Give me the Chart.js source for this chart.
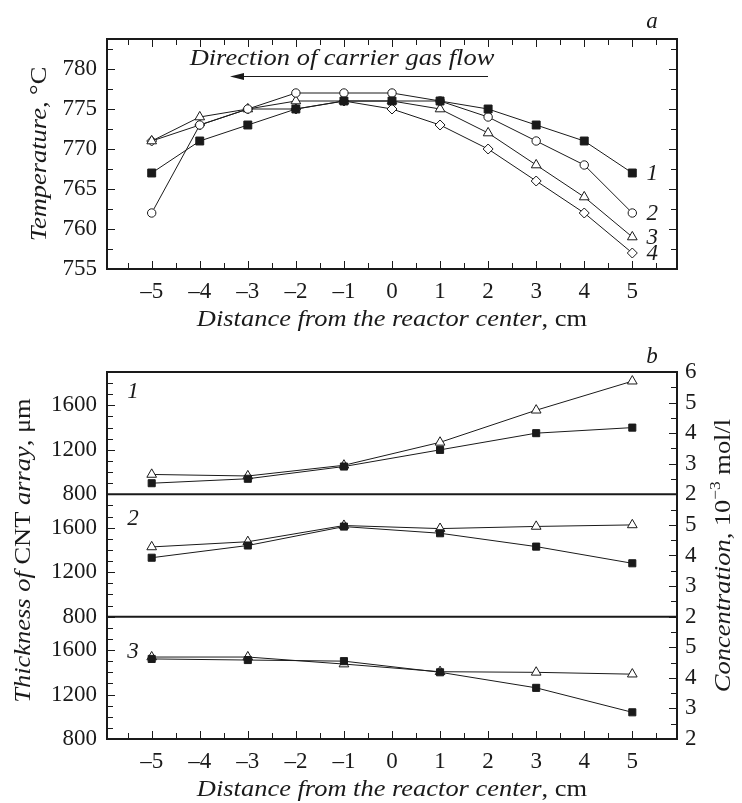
<!DOCTYPE html>
<html>
<head>
<meta charset="utf-8">
<script src="https://cdn.jsdelivr.net/npm/chart.js@4.4.0/dist/chart.umd.min.js"></script>
<style>
  body { margin: 0; background: #fff; }
  canvas { display: block; }
</style>
</head>
<body>
<canvas id="tempChart" width="742" height="335"></canvas>
<canvas id="cntChart" width="742" height="468"></canvas>
<script>
// panel a: temperature profiles along the reactor
const tempX = [-5, -4, -3, -2, -1, 0, 1, 2, 3, 4, 5];
const temp1 = [767, 771, 773, 775, 776, 776, 776, 775, 773, 771, 767];
const temp2 = [762, 773, 775, 777, 777, 777, 776, 774, 771, 768, 762];
const temp3 = [771, 774, 775, 776, 776, 776, 775, 772, 768, 764, 759];
const temp4 = [771, 773, 775, 775, 776, 775, 773, 770, 766, 762, 757];
const tempNames = ['1', '2', '3', '4'];
const tempTicks = [755, 760, 765, 770, 775, 780];

// panel b: CNT array thickness (squares, um) and concentration (triangles, 1e-3 mol/l)
const cntX = [-5, -3, -1, 1, 3, 5];
const thick1 = [900, 940, 1050, 1200, 1350, 1400];
const thick2 = [1330, 1440, 1610, 1550, 1430, 1280];
const thick3 = [1520, 1510, 1500, 1400, 1260, 1040];
const conc1 = [2.65, 2.6, 2.95, 3.7, 4.75, 5.7];
const conc2 = [4.28, 4.45, 4.98, 4.88, 4.95, 5.0];
const conc3 = [4.68, 4.68, 4.45, 4.2, 4.18, 4.12];
const cntNames = ['1', '2', '3'];
const thickTicks = [800, 1200, 1600];
const concTicksTop = [2, 3, 4, 5, 6];
const concTicks = [2, 3, 4, 5];

const distTicks = [-5, -4, -3, -2, -1, 0, 1, 2, 3, 4, 5];

const SERIF = '"Liberation Serif", "DejaVu Serif", serif';
const INK = '#1a1a1a';
const tickFont = { family: SERIF, size: 23 };
const IT = 'italic 23px ' + SERIF;
const RM = '23px ' + SERIF;
const STRETCH = 1.15;  // the original lettering is a bit wide

const fmtX = v => (v < 0 ? '\u2013' + Math.abs(v) : String(v));
const plain = v => String(v);
const pts = (xs, ys) => ys.map((v, i) => ({ x: xs[i], y: v }));
const fixTicks = list => sc => { sc.ticks = list.map(v => ({ value: v })); };

function series(xs, ys, style, fill, r, axis) {
  const ds = {
    data: pts(xs, ys),
    borderColor: INK, borderWidth: 1,
    pointStyle: style, pointRadius: r, pointBorderWidth: 1,
    pointBorderColor: INK, pointBackgroundColor: fill,
    tension: 0, fill: false
  };
  if (axis) ds.yAxisID = axis;
  return ds;
}

// mixed italic / upright text, centred at x,y
function richText(ctx, parts, x, y, angle) {
  ctx.save();
  ctx.translate(x, y);
  ctx.rotate(angle || 0);
  ctx.scale(STRETCH, 1);
  ctx.textBaseline = 'middle';
  ctx.textAlign = 'left';
  ctx.fillStyle = INK;
  let total = 0;
  parts.forEach(p => { ctx.font = p[1]; total += ctx.measureText(p[0]).width; });
  let cx = -total / 2;
  parts.forEach(p => {
    ctx.font = p[1];
    ctx.fillText(p[0], cx, p[2] || 0);
    cx += ctx.measureText(p[0]).width;
  });
  ctx.restore();
}

// inward tick marks along one side of the plot
function inTicks(ctx, scale, step, major, from, dir, horizontal) {
  const n = Math.round((scale.max - scale.min) / step);
  const start = Math.ceil(scale.min / step - 1e-9) * step;
  ctx.beginPath();
  for (let i = 0; i <= n + 1; i++) {
    const v = start + i * step;
    if (v > scale.max + 1e-9) break;
    const isMajor = Math.abs(v / major - Math.round(v / major)) < 1e-6;
    const len = isMajor ? 8 : 6;
    const p = Math.round(scale.getPixelForValue(v)) + 0.5;
    if (horizontal) { ctx.moveTo(p, from); ctx.lineTo(p, from + dir * len); }
    else { ctx.moveTo(from, p); ctx.lineTo(from + dir * len, p); }
  }
  ctx.stroke();
}

function frame(ctx, a) {
  ctx.lineWidth = 2;
  ctx.strokeStyle = INK;
  ctx.strokeRect(a.left, a.top, a.right - a.left, a.bottom - a.top);
}

const axisBase = {
  grid: { display: false, drawTicks: false },
  border: { display: false }
};
const yTicks = { autoSkip: false, callback: plain, font: tickFont, color: INK };

const distAxis = (h) => ({
  ...axisBase, type: 'linear', min: -5.93, max: 5.93,
  afterBuildTicks: fixTicks(distTicks),
  ticks: { autoSkip: false, maxRotation: 0, callback: fmtX, font: tickFont, color: INK, padding: 9 },
  afterFit: sc => { sc.height = h; }
});

const tempDecor = {
  id: 'tempDecor',
  afterDraw(chart) {
    const ctx = chart.ctx, a = chart.chartArea;
    const x = chart.scales.x, y = chart.scales.y;
    ctx.save();
    frame(ctx, a);
    ctx.lineWidth = 1;
    inTicks(ctx, x, 0.5, 1, a.bottom, -1, true);
    inTicks(ctx, x, 0.5, 1, a.top, 1, true);
    inTicks(ctx, y, 2.5, 5, a.left, 1, false);
    inTicks(ctx, y, 2.5, 5, a.right, -1, false);

    // curve numbers next to the last points
    ctx.fillStyle = INK;
    ctx.font = IT;
    ctx.textAlign = 'center';
    ctx.textBaseline = 'middle';
    tempNames.forEach((name, i) => {
      const d = chart.getDatasetMeta(i).data;
      const p = d[d.length - 1];
      ctx.fillText(name, p.x + 20, p.y + 1);
    });
    ctx.fillText('a', a.right - 25, 22);

    // carrier gas direction
    richText(ctx, [['Direction of carrier gas flow', IT]], a.left + 235, 59);
    const ay = 76.5, x1 = a.left + 381, x2 = a.left + 123;
    ctx.strokeStyle = INK;
    ctx.lineWidth = 1.2;
    ctx.beginPath(); ctx.moveTo(x1, ay); ctx.lineTo(x2 + 10, ay); ctx.stroke();
    ctx.beginPath(); ctx.moveTo(x2, ay); ctx.lineTo(x2 + 14, ay - 3.5); ctx.lineTo(x2 + 14, ay + 3.5); ctx.closePath(); ctx.fill();

    richText(ctx, [['Temperature, ', IT], ['\u00b0C', RM]], 40, (a.top + a.bottom) / 2, -Math.PI / 2);
    richText(ctx, [['Distance from the reactor center', IT], [', cm', RM]], (a.left + a.right) / 2, 320);
    ctx.restore();
  }
};

new Chart(document.getElementById('tempChart'), {
  type: 'line',
  data: {
    datasets: [
      series(tempX, temp1, 'rect', INK, 5.6),
      series(tempX, temp2, 'circle', '#fff', 4.2),
      series(tempX, temp3, 'triangle', '#fff', 5.6),
      series(tempX, temp4, 'rectRot', '#fff', 5)
    ]
  },
  options: {
    responsive: false,
    animation: false,
    layout: { padding: { top: 39, right: 65, left: 0, bottom: 0 } },
    plugins: { legend: { display: false }, tooltip: { enabled: false } },
    scales: {
      x: distAxis(66),
      y: {
        ...axisBase, min: 755, max: 783.75,
        afterBuildTicks: fixTicks(tempTicks),
        ticks: { ...yTicks, padding: 10 },
        afterFit: s => { s.width = 107; }
      }
    }
  },
  plugins: [tempDecor]
});

const cntDecor = {
  id: 'cntDecor',
  afterDraw(chart) {
    const ctx = chart.ctx, a = chart.chartArea, s = chart.scales;
    const left = [s.t1, s.t2, s.t3], right = [s.c1, s.c2, s.c3];
    ctx.save();
    frame(ctx, a);
    ctx.beginPath();
    [s.t1, s.t2].forEach(sc => {
      ctx.moveTo(a.left, sc.bottom); ctx.lineTo(a.right, sc.bottom);
    });
    ctx.stroke();
    ctx.lineWidth = 1;
    inTicks(ctx, s.x, 0.5, 1, a.bottom, -1, true);
    left.forEach(sc => inTicks(ctx, sc, 100, 400, a.left, 1, false));
    right.forEach(sc => inTicks(ctx, sc, 0.5, 1, a.right, -1, false));

    ctx.fillStyle = INK;
    ctx.font = IT;
    ctx.textAlign = 'center';
    ctx.textBaseline = 'middle';
    const nameDy = [20, 25, 35];
    cntNames.forEach((name, i) => ctx.fillText(name, a.left + 26, left[i].top + nameDy[i]));
    ctx.fillText('b', a.right - 25, 22);

    const mid = (s.t2.top + s.t2.bottom) / 2;
    richText(ctx, [['Thickness of ', IT], ['CNT', RM], [' array', IT], [', \u03bcm', RM]], 24, mid - 5, -Math.PI / 2);
    richText(ctx, [['Concentration, ', IT], ['10', RM], ['\u22123', '15px ' + SERIF, -8], [' mol/l', RM]], 724, mid, -Math.PI / 2);
    richText(ctx, [['Distance from the reactor center', IT], [', cm', RM]], (a.left + a.right) / 2, 455);
    ctx.restore();
  }
};

const leftAxis = (w) => ({
  ...axisBase, position: 'left', stack: 'thick', weight: w, min: 800, max: 1900,
  afterBuildTicks: fixTicks(thickTicks),
  ticks: { ...yTicks, padding: 10 },
  afterFit: sc => { sc.width = 107; }
});
const rightAxis = (w, list) => ({
  ...axisBase, position: 'right', stack: 'conc', weight: w, min: 2, max: 6,
  afterBuildTicks: fixTicks(list),
  ticks: { ...yTicks, padding: 8 },
  afterFit: sc => { sc.width = 65; }
});

new Chart(document.getElementById('cntChart'), {
  type: 'line',
  data: {
    datasets: [
      series(cntX, thick1, 'rect', INK, 5, 't1'),
      series(cntX, conc1, 'triangle', '#fff', 5.6, 'c1'),
      series(cntX, thick2, 'rect', INK, 5, 't2'),
      series(cntX, conc2, 'triangle', '#fff', 5.6, 'c2'),
      series(cntX, thick3, 'rect', INK, 5, 't3'),
      series(cntX, conc3, 'triangle', '#fff', 5.6, 'c3')
    ]
  },
  options: {
    responsive: false,
    animation: false,
    layout: { padding: { top: 37, right: 0, left: 0, bottom: 0 } },
    plugins: { legend: { display: false }, tooltip: { enabled: false } },
    scales: {
      x: distAxis(64),
      t1: leftAxis(3), t2: leftAxis(2), t3: leftAxis(1),
      c1: rightAxis(1, concTicksTop), c2: rightAxis(2, concTicks), c3: rightAxis(3, concTicks)
    }
  },
  plugins: [cntDecor]
});
</script>
</body>
</html>
